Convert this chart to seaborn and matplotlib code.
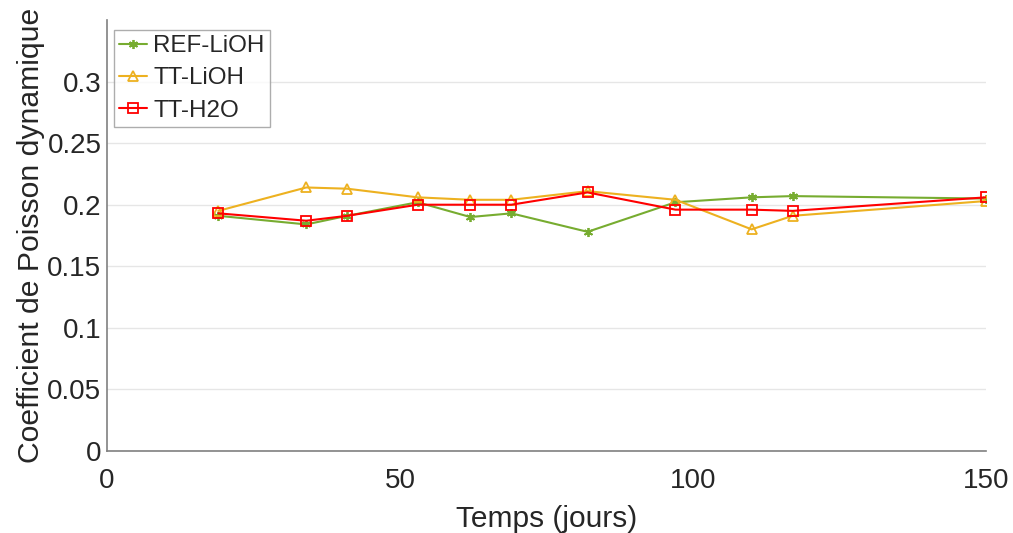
import numpy as np
import pandas as pd
import seaborn as sns
import matplotlib.pyplot as plt
from matplotlib.ticker import FuncFormatter

# jours de mesure
temps = [19, 34, 41, 53, 62, 69, 82, 97, 110, 117, 150]

ref_lioh = [0.191, 0.184, 0.191, 0.202, 0.190, 0.193, 0.178, 0.202, 0.206, 0.207, 0.205]
tt_lioh = [0.195, 0.214, 0.213, 0.206, 0.204, 0.204, 0.211, 0.204, 0.180, 0.191, 0.203]
tt_h2o = [0.193, 0.187, 0.191, 0.200, 0.200, 0.200, 0.210, 0.196, 0.196, 0.195, 0.206]

series = ["REF-LiOH", "TT-LiOH", "TT-H2O"]
couleurs = {"REF-LiOH": "#77AC30", "TT-LiOH": "#EDB120", "TT-H2O": "#FF0000"}
marqueurs = {"REF-LiOH": (6, 2, 0), "TT-LiOH": "^", "TT-H2O": "s"}

df = pd.DataFrame({
    "temps": temps * 3,
    "nu": ref_lioh + tt_lioh + tt_h2o,
    "serie": [s for s in series for _ in temps],
})

sns.set_style("white")
plt.rcParams["font.family"] = ["Liberation Sans", "DejaVu Sans"]

fig = plt.figure(figsize=(10.13, 5.33), dpi=100)
ax = fig.add_axes([0.1056, 0.1538, 0.8678, 0.8087])

for s in series:
    sub = df[df["serie"] == s]
    sns.lineplot(data=sub, x="temps", y="nu", ax=ax, color=couleurs[s],
                 marker=marqueurs[s], markersize=6.5, markerfacecolor="none",
                 markeredgecolor=couleurs[s], markeredgewidth=1.3,
                 linewidth=1.5, label=s, sort=False)

ax.set_xlim(0, 150)
ax.set_ylim(0, 0.35)
ax.set_xticks([0, 50, 100, 150])
ax.set_yticks(np.arange(0, 0.31, 0.05))
ax.yaxis.set_major_formatter(FuncFormatter(lambda v, p: f"{v:g}"))
ax.yaxis.grid(True, color="#e6e6e6", linewidth=1)
ax.set_axisbelow(True)

for side in ["top", "right"]:
    ax.spines[side].set_visible(False)
for side in ["left", "bottom"]:
    ax.spines[side].set_color("#808080")
    ax.spines[side].set_linewidth(1.2)

ax.tick_params(direction="in", length=5, color="#808080", labelsize=20,
               labelcolor="#262626", pad=4)
ax.tick_params(axis="x", pad=12)

ax.set_xlabel("Temps (jours)", fontsize=21.5, color="#262626", labelpad=8)
ax.set_ylabel("Coefficient de Poisson dynamique", fontsize=21.7,
              color="#262626", labelpad=2)

leg = ax.legend(loc="upper left", fontsize=17.4, frameon=True, fancybox=False,
                edgecolor="#999999", borderpad=0.22, handlelength=1.15,
                handletextpad=0.25, labelspacing=0.42, borderaxespad=0,
                bbox_to_anchor=(0.008, 0.977))
leg.get_frame().set_linewidth(1)

fig.savefig("out.png", dpi=100)
